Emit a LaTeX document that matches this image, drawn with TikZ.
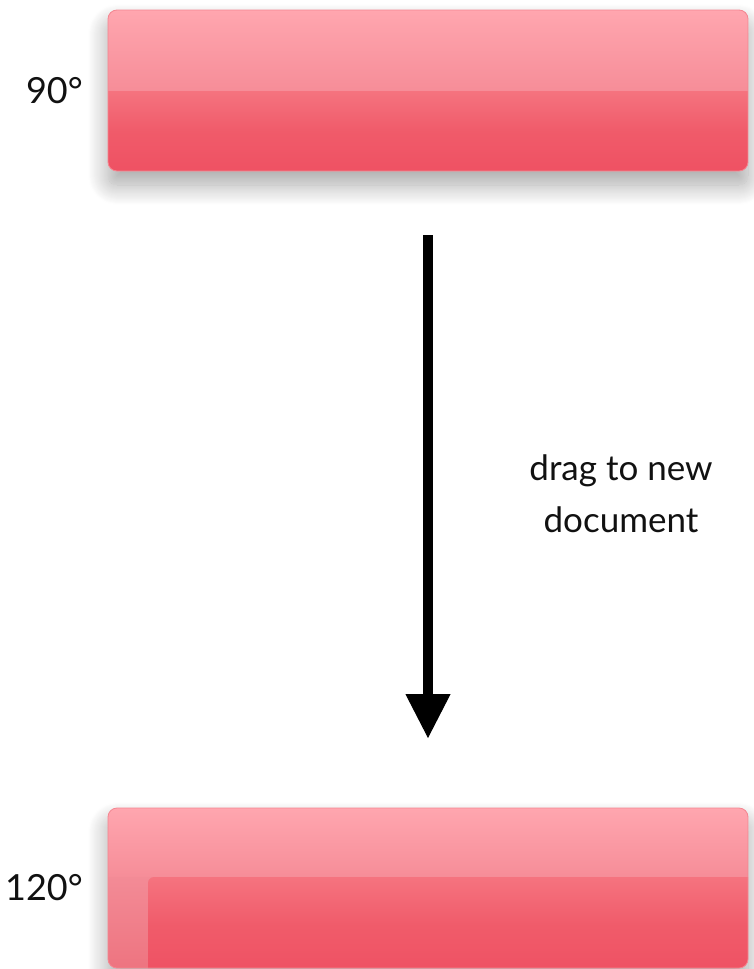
\documentclass[tikz,border=0pt]{standalone}
\usepackage{fontspec}
\setmainfont{Lato}
\usetikzlibrary{arrows.meta,shadows.blur}
\definecolor{hiTop}{HTML}{FFA6AF}
\definecolor{hiBot}{HTML}{F68D98}
\definecolor{loTop}{HTML}{F5737F}
\definecolor{loMid}{HTML}{F05B6A}
\definecolor{loBot}{HTML}{EF5163}
\definecolor{stripTop}{HTML}{F38B96}
\definecolor{stripBot}{HTML}{EE7480}
\definecolor{rim}{HTML}{F48590}
\definecolor{txt}{HTML}{111111}
\tikzset{
  lbl/.style={font=\fontsize{36}{40}\selectfont, text=txt, inner sep=0pt},
  note/.style={font=\fontsize{35}{52}\selectfont, text=txt, align=center, inner sep=0pt},
  boxshadow/.style={fill=white, blur shadow={shadow xshift=0pt, shadow yshift=-14pt, shadow blur radius=20pt, shadow blur steps=20, shadow opacity=35}},
  rimline/.style={draw=rim, line width=0.8pt, rounded corners=9pt},
  flow/.style={draw=black, line width=10pt, -{Triangle[length=44pt,width=45pt,line width=1pt,fill=black,color=black]}}
}
\begin{document}
\begin{tikzpicture}[x=1pt,y=-1pt]
\useasboundingbox (0,0) rectangle (754,969);
% ---- top box ----
\path[boxshadow, rounded corners=9pt] (108,10) rectangle (748,171);
\begin{scope}
  \clip[rounded corners=9pt] (108,10) rectangle (748,171);
  \shade[top color=hiTop, bottom color=hiBot] (108,10) rectangle (748,91);
  \shade[top color=loTop, bottom color=loBot, middle color=loMid] (108,91) rectangle (748,171);
\end{scope}
\path[rimline] (108,10) rectangle (748,171);
\node[inner sep=0pt, minimum width=640pt, minimum height=161pt] (box90) at (428,90.5) {};
% ---- bottom box ----
\path[boxshadow, rounded corners=9pt] (108,808) rectangle (748,968);
\begin{scope}
  \clip[rounded corners=9pt] (108,808) rectangle (748,968);
  \shade[top color=hiTop, bottom color=hiBot] (108,808) rectangle (748,877);
  \shade[top color=stripTop, bottom color=stripBot] (108,877) rectangle (748,968);
  \shade[top color=loTop, bottom color=loBot, middle color=loMid, rounded corners=6pt] (148,877) -- (760,877) -- (760,975) -- (148,975) -- cycle;
\end{scope}
\path[rimline] (108,808) rectangle (748,968);
\node[inner sep=0pt, minimum width=640pt, minimum height=160pt] (box120) at (428,888) {};
% ---- labels ----
\node[lbl, anchor=east] (l90) at (83,91) {90°};
\node[lbl, anchor=east] (l120) at (83,888) {120°};
% ---- arrow ----
\coordinate (astart) at (428,235);
\coordinate (aend) at (428,738);
\draw[flow] (astart) -- (aend);
\node[note] (drag) at (621,494) {drag to new\\document};
\end{tikzpicture}
\end{document}
